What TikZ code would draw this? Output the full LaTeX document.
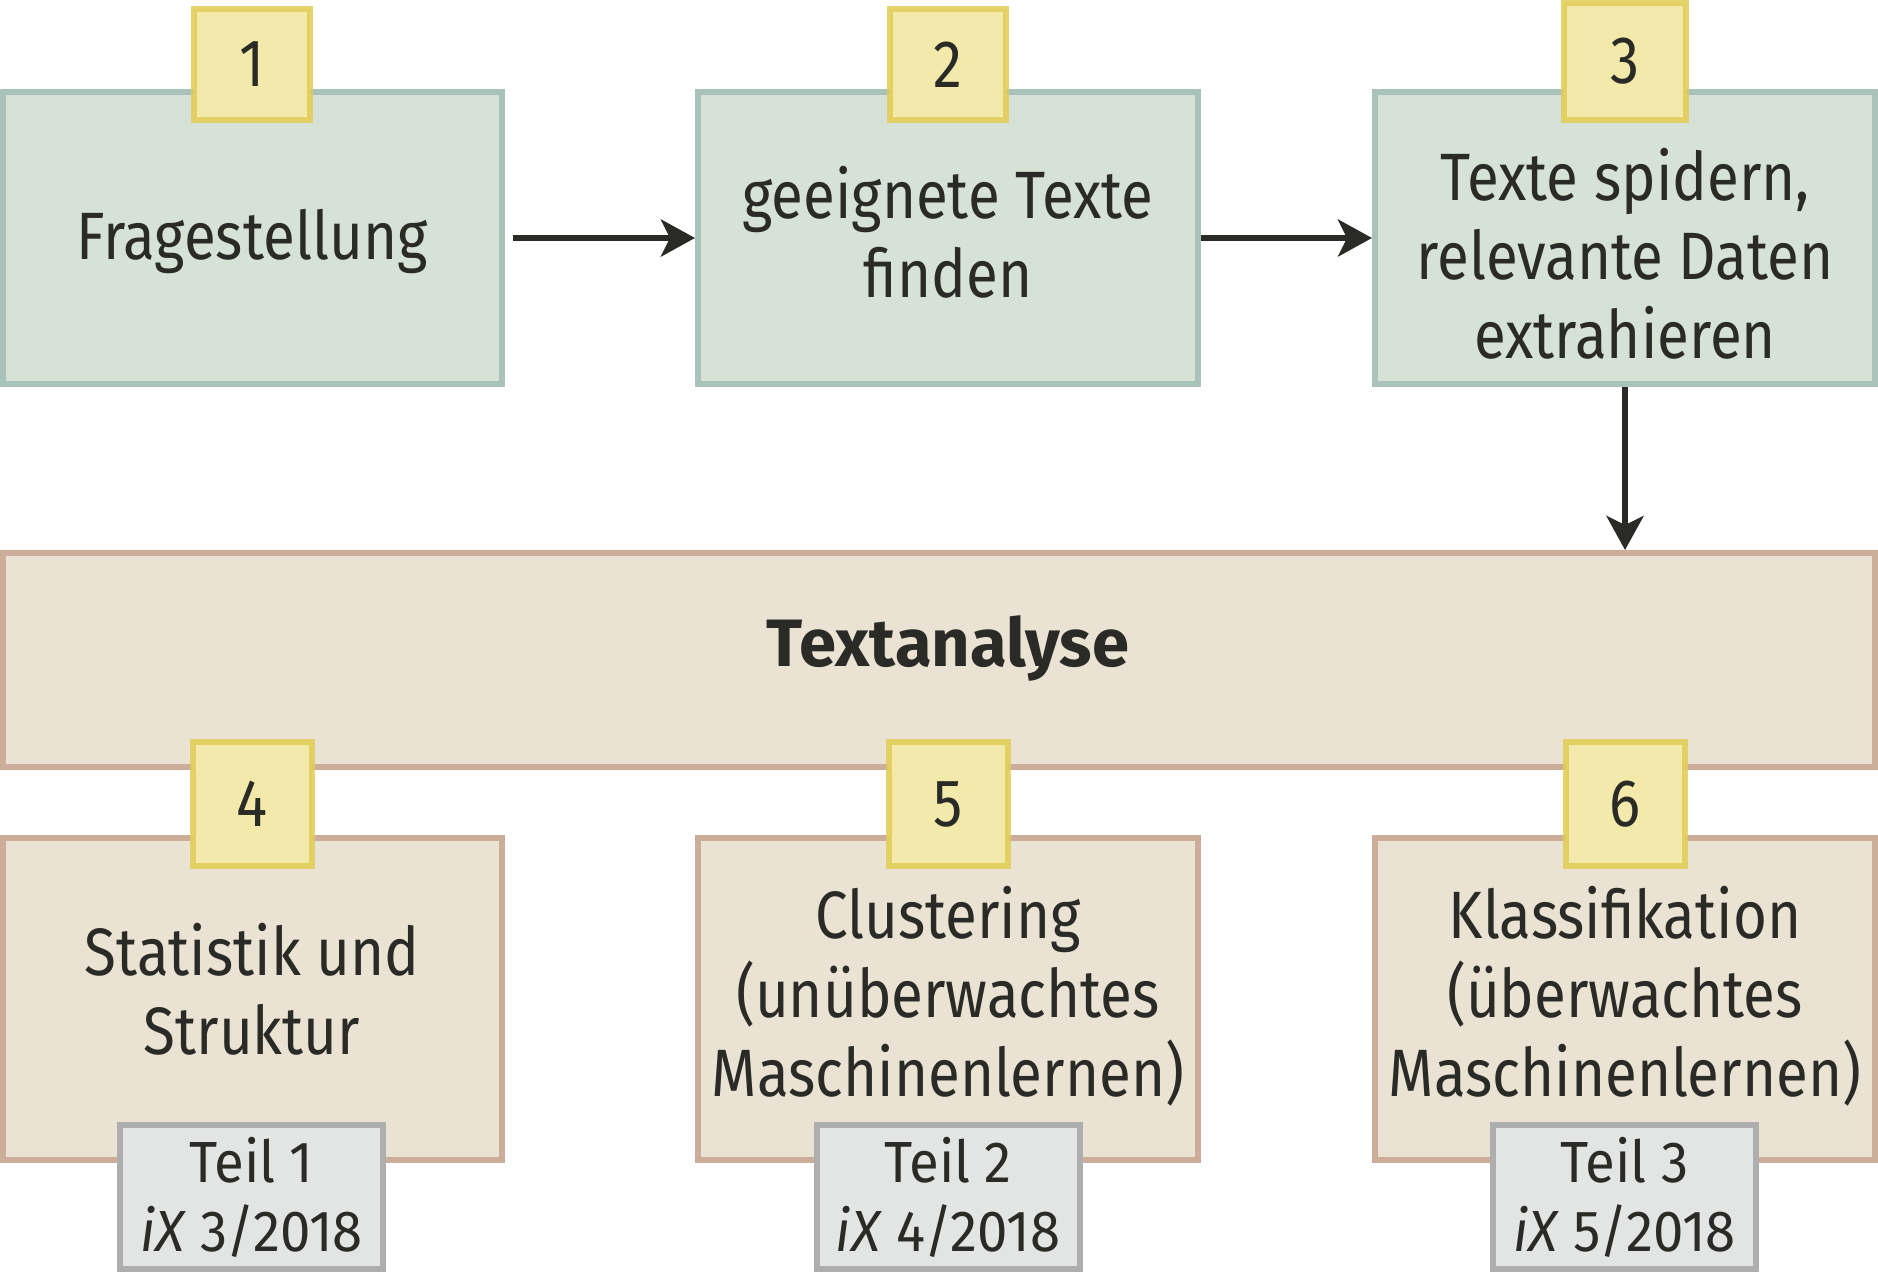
\documentclass[tikz,border=0pt]{standalone}
\usepackage{fontspec}
\IfFontExistsTF{Fira Sans Book}{%
	\setmainfont{Fira Sans Book}[FakeStretch=0.87]
	\newfontfamily{\reffam}{Fira Sans Book}[FakeStretch=0.94]
}{%
	\setmainfont{Fira Sans}[FakeStretch=0.87]
	\newfontfamily{\reffam}{Fira Sans}[FakeStretch=0.94]
}
\newfontfamily{\headfam}{Fira Sans}
\usetikzlibrary{arrows.meta, positioning}
\definecolor{stepfill}{HTML}{D6E2D5}
\definecolor{stepdraw}{HTML}{A9C3BB}
\definecolor{tagfill}{HTML}{F3E9AB}
\definecolor{tagdraw}{HTML}{E0CC55}
\definecolor{anafill}{HTML}{EAE2D3}
\definecolor{anadraw}{HTML}{CCAD99}
\definecolor{reffill}{HTML}{E3E5E4}
\definecolor{refdraw}{HTML}{AEAEAE}
\definecolor{ink}{HTML}{2A2A26}
\newcommand{\boxfont}{\fontsize{67}{79}\selectfont}
\newcommand{\reffont}{\reffam\fontsize{58}{69}\selectfont}
\tikzset{%
	stepbox/.style={draw=stepdraw, fill=stepfill, rectangle, line width=6pt,%
		minimum width=500pt, minimum height=292pt, inner sep=0pt},
	anabox/.style={draw=anadraw, fill=anafill, rectangle, line width=6pt,%
		minimum width=500pt, minimum height=322pt, inner sep=0pt},
	lbl/.style={align=center, text=ink, font=\boxfont, inner sep=0pt},
	tag/.style={draw=tagdraw, draw opacity=0.85, fill=tagfill, rectangle,%
		line width=6pt, minimum width=116pt, minimum height=111pt, inner sep=0pt,%
		text=ink, font=\boxfont},
	refbox/.style={draw=refdraw, fill=reffill, rectangle, line width=6pt,%
		minimum width=263pt, minimum height=144pt, inner sep=0pt,%
		align=center, text=ink, font=\reffont},
	connector/.style={line width=6pt, draw=ink,%
		-{Stealth[length=34pt, width=37pt, inset=9pt]}}
}
\begin{document}
\begin{tikzpicture}[x=1pt, y=-1pt]
	\useasboundingbox (0,0) rectangle (1878,1275);

	% Schritte 1-3
	\node[stepbox, minimum width=499pt] (b1) at (252.5,238) {};
	\node[stepbox] (b2) at (948,238) {};
	\node[stepbox] (b3) at (1625,238) {};
	\node[lbl] (t1) at (252,241.5) {Fragestellung};
	\node[lbl] (t2) at (948,232.5) {geeignete Texte\\finden};
	\node[lbl] (t3) at (1625,253.5) {Texte spidern,\\relevante Daten\\extrahieren};

	\node[tag] (n1) at (252,64.5) {1};
	\node[tag] (n2) at (948,64.5) {2};
	\node[tag, minimum width=122pt, minimum height=117pt] (n3) at (1625,61.5) {3};

	% Textanalyse
	\node[anabox, minimum width=1872pt, minimum height=214pt] (ana) at (939,660) {};
	\node[lbl, font=\headfam\boxfont\bfseries] (tana) at (948,648.5) {Textanalyse};

	% Schritte 4-6
	\node[anabox, minimum width=499pt] (b4) at (252.5,999) {};
	\node[anabox] (b5) at (948,999) {};
	\node[anabox] (b6) at (1625,999) {};
	\node[lbl] (t4) at (252,989.5) {Statistik und\\Struktur};
	\node[lbl] (t5) at (948,996.5) {Clustering\\(unüberwachtes\\Maschinenlernen)};
	\node[lbl] (t6) at (1625,996.5) {Klassifikation\\(überwachtes\\Maschinenlernen)};

	\node[tag, minimum width=119pt, minimum height=124pt] (n4) at (252,804) {4};
	\node[tag, minimum width=119pt, minimum height=124pt] (n5) at (948.5,804) {5};
	\node[tag, minimum width=119pt, minimum height=124pt] (n6) at (1625,804) {6};

	\node[refbox] (r1) at (251.5,1197) {Teil 1\\\textit{iX} 3/2018};
	\node[refbox] (r2) at (948,1197) {Teil 2\\\textit{iX} 4/2018};
	\node[refbox] (r3) at (1624.5,1197) {Teil 3\\\textit{iX} 5/2018};

	\draw[connector, shorten <=8pt] (b1) -- (b2);
	\draw[connector] (b2) -- (b3);
	\draw[connector] (b3) -- (b3 |- ana.north);

\end{tikzpicture}
\end{document}
